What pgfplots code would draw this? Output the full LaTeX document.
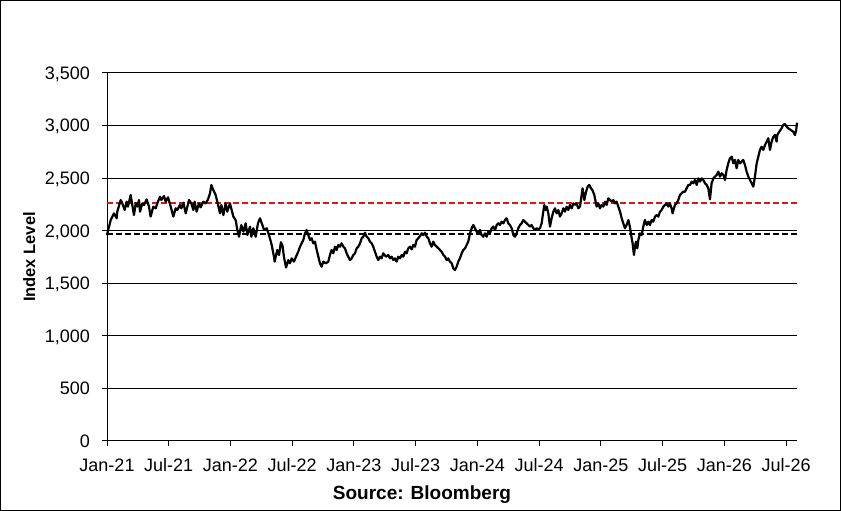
\documentclass[border=0pt]{standalone}
\usepackage{pgfplots}
\pgfplotsset{compat=1.18}
\usepackage{fontspec}
\setmainfont{Liberation Sans}
\definecolor{refred}{RGB}{225,20,20}
\pgfplotstableread{
m v
0.00 1959
0.36 2102
0.68 2165
0.94 2118
1.00 2181
1.33 2292
1.49 2260
1.72 2197
1.91 2276
2.04 2229
2.30 2340
2.62 2149
2.79 2260
2.95 2229
3.11 2292
3.21 2181
3.43 2260
3.60 2245
3.85 2298
4.08 2229
4.24 2134
4.50 2229
4.73 2213
4.89 2260
5.15 2324
5.28 2292
5.54 2330
5.70 2276
5.93 2318
6.19 2229
6.45 2134
6.67 2213
6.83 2197
7.09 2245
7.22 2213
7.42 2267
7.65 2165
7.81 2229
7.97 2292
8.20 2260
8.39 2197
8.52 2276
8.71 2181
8.94 2260
9.10 2222
9.36 2276
9.59 2260
9.82 2298
10.01 2356
10.14 2435
10.33 2387
10.56 2340
10.72 2276
10.98 2165
11.11 2245
11.31 2149
11.53 2260
11.69 2181
11.95 2260
12.28 2134
12.50 2102
12.67 2007
12.83 1943
13.05 2054
13.25 1991
13.48 2070
13.64 1959
13.90 2039
14.03 1943
14.22 2023
14.45 1943
14.67 2070
14.87 2118
15.10 2054
15.26 2007
15.52 2023
15.74 1959
15.97 1880
16.23 1753
16.29 1706
16.55 1817
16.72 1769
16.90 1890
17.05 1860
17.20 1750
17.40 1650
17.62 1721
17.78 1690
17.95 1737
18.17 1706
18.37 1753
18.59 1801
18.76 1848
18.92 1880
19.08 1912
19.24 1975
19.40 2007
19.56 1959
19.73 1912
19.89 1928
20.05 1880
20.21 1896
20.38 1817
20.54 1753
20.70 1690
20.86 1658
21.02 1706
21.28 1690
21.51 1706
21.67 1769
21.83 1817
21.99 1785
22.16 1848
22.32 1817
22.48 1864
22.64 1848
22.80 1880
22.97 1848
23.13 1832
23.29 1785
23.45 1753
23.61 1721
23.78 1737
23.94 1769
24.10 1785
24.26 1832
24.42 1848
24.59 1880
24.75 1928
24.91 1943
25.07 1981
25.23 1943
25.40 1928
25.56 1896
25.72 1880
25.88 1848
26.04 1801
26.21 1753
26.37 1721
26.53 1753
26.69 1737
26.85 1785
27.11 1753
27.34 1769
27.50 1737
27.66 1753
27.83 1721
27.99 1737
28.15 1706
28.31 1753
28.47 1737
28.64 1769
28.80 1753
28.96 1801
29.12 1785
29.28 1832
29.45 1848
29.61 1823
29.77 1864
29.93 1848
30.09 1912
30.26 1928
30.42 1950
30.58 1975
30.74 1959
30.90 1981
31.07 1943
31.23 1928
31.39 1880
31.55 1848
31.71 1896
31.87 1864
32.04 1848
32.20 1832
32.36 1817
32.52 1801
32.69 1769
32.85 1753
33.01 1721
33.17 1737
33.33 1706
33.50 1690
33.66 1642
33.82 1626
33.98 1658
34.14 1706
34.31 1740
34.47 1785
34.63 1817
34.79 1832
34.95 1864
35.11 1896
35.28 1975
35.44 2023
35.60 2054
35.76 2023
35.92 1991
36.09 1975
36.25 2007
36.41 1959
36.57 1943
36.73 1975
36.90 1943
37.06 1991
37.22 1975
37.38 2023
37.54 2039
37.71 2007
37.87 2054
38.03 2070
38.19 2054
38.35 2086
38.52 2070
38.68 2102
38.84 2118
39.00 2070
39.16 2054
39.33 2023
39.49 1959
39.65 1943
39.81 1975
39.97 2023
40.14 2054
40.30 2070
40.46 2102
40.62 2086
40.78 2070
40.95 2054
41.11 2039
41.27 2054
41.43 2023
41.59 2007
41.76 2023
41.92 2013
42.08 2023
42.24 2070
42.40 2181
42.50 2245
42.63 2197
42.73 2229
42.89 2165
43.05 2039
43.21 2118
43.38 2181
43.54 2213
43.70 2165
43.86 2197
44.02 2134
44.18 2165
44.35 2213
44.51 2181
44.67 2229
44.83 2197
44.99 2245
45.16 2213
45.32 2260
45.48 2245
45.64 2260
45.80 2213
45.97 2229
46.13 2340
46.22 2403
46.39 2292
46.52 2356
46.71 2419
46.87 2435
47.04 2403
47.17 2387
47.36 2340
47.49 2276
47.59 2229
47.75 2260
47.91 2213
48.07 2245
48.24 2229
48.40 2276
48.56 2245
48.72 2308
48.88 2292
49.05 2276
49.21 2292
49.37 2260
49.53 2276
49.69 2229
49.86 2181
50.02 2118
50.18 2070
50.34 2023
50.50 2054
50.67 2102
50.83 2030
50.99 1930
51.08 1880
51.21 1769
51.31 1848
51.41 1896
51.54 1832
51.64 1912
51.80 1975
51.96 1959
52.12 2039
52.28 2102
52.45 2054
52.61 2086
52.77 2054
52.93 2102
53.09 2086
53.26 2134
53.42 2149
53.58 2134
53.74 2181
53.90 2197
54.07 2229
54.23 2245
54.39 2260
54.55 2229
54.71 2260
54.87 2213
54.97 2165
55.10 2213
55.20 2245
55.36 2260
55.52 2292
55.69 2340
55.85 2356
56.01 2371
56.17 2371
56.33 2403
56.50 2435
56.66 2435
56.82 2467
56.98 2451
57.14 2482
57.31 2435
57.47 2498
57.63 2467
57.79 2498
57.95 2482
58.12 2451
58.28 2435
58.44 2403
58.60 2298
58.76 2451
58.93 2498
59.09 2514
59.25 2530
59.41 2562
59.57 2514
59.74 2546
59.90 2530
60.06 2482
60.22 2578
60.38 2641
60.54 2688
60.71 2704
60.87 2641
61.03 2673
61.19 2593
61.35 2673
61.52 2641
61.68 2657
61.84 2673
62.00 2625
62.16 2562
62.33 2514
62.49 2482
62.65 2451
62.81 2419
62.97 2514
63.14 2641
63.30 2704
63.46 2768
63.62 2799
63.78 2768
63.95 2815
64.11 2847
64.27 2879
64.43 2768
64.59 2847
64.76 2894
64.92 2910
65.08 2847
65.14 2910
65.34 2942
65.56 2974
65.72 3005
65.88 3015
66.05 2990
66.21 2974
66.37 2964
66.53 2952
66.69 2942
66.86 2910
66.98 2958
67.06 3028
}\indexdata
\begin{document}
\begin{tikzpicture}[x=1bp,y=1bp]
\useasboundingbox (0,0) rectangle (841,511);
\draw[line width=1bp] (0.5,0.5) rectangle (840.5,510.5);
\begin{axis}[
  at={(107bp,70bp)}, anchor=south west,
  scale only axis, width=690bp, height=368bp,
  xmin=0, xmax=67.06, ymin=0, ymax=3500,
  axis x line*=bottom, axis y line*=left,
  axis line style={line width=1bp, black},
  xtick={0,6,...,66},
  xticklabels={Jan-21,Jul-21,Jan-22,Jul-22,Jan-23,Jul-23,Jan-24,Jul-24,Jan-25,Jul-25,Jan-26,Jul-26},
  ytick={0,500,...,3500},
  tick align=outside, major tick length=5bp,
  tick style={black, line width=1bp},
  ymajorgrids, grid style={black, line width=1bp},
  /pgf/number format/1000 sep={,},
  /pgf/number format/assume math mode=true,
  tick label style={font=\fontsize{18bp}{20bp}\selectfont},
  xticklabel style={anchor=base, inner sep=0pt, yshift=-25.7bp},
  yticklabel style={anchor=base east, inner sep=0pt, xshift=-12bp, yshift=-6.4bp},
  xlabel={Source: Bloomberg},
  xlabel style={font=\bfseries\fontsize{19bp}{21bp}\selectfont, at={(axis description cs:0.4565,-0.1584)}, anchor=base},
  ylabel={Index Level},
  ylabel style={font=\bfseries\fontsize{16.5bp}{18bp}\selectfont, at={(axis description cs:-0.1043,0.5)}, anchor=base},
  clip=false,
]
\addplot[refred, line width=1.6bp, dash pattern=on 6bp off 3bp] coordinates {(0,2266) (67.06,2266)};
\addplot[black, line width=1.6bp, dash pattern=on 6bp off 3bp] coordinates {(0,1966) (67.06,1966)};
\addplot[black, line width=2.2bp, line join=round] table[x=m, y=v] {\indexdata};
\end{axis}
\end{tikzpicture}
\end{document}
